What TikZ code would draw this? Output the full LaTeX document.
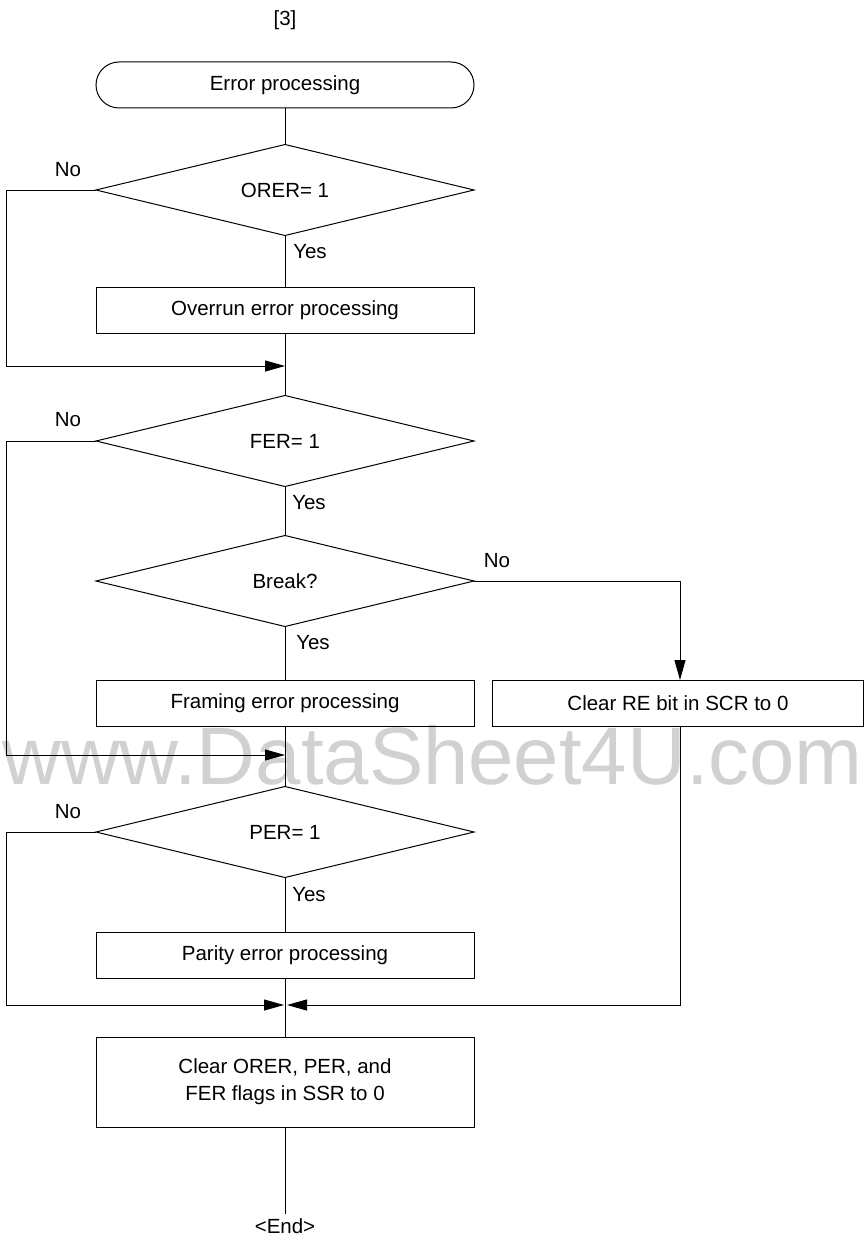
\documentclass[tikz,border=0pt]{standalone}
\usepackage{fontspec}
\setmainfont{Liberation Sans}
\usetikzlibrary{shapes.geometric,arrows.meta}
\begin{document}
\begin{tikzpicture}[x=1pt,y=-1pt,
  every node/.style={font=\fontsize{20.5}{27}\selectfont},
  line/.style={draw=black,line width=1pt},
  arr/.style={line,-{Triangle[length=20pt,width=11pt]}},
  procbox/.style={draw,line width=1pt,rectangle,minimum width=378pt,minimum height=46pt,inner sep=0pt,outer sep=0pt,align=center},
  termbox/.style={draw,line width=1pt,rectangle,rounded corners=23pt,minimum width=378pt,minimum height=46pt,inner sep=0pt,outer sep=0pt},
  decis/.style={draw,line width=1pt,diamond,aspect=4.15,minimum width=378pt,minimum height=91pt,inner sep=0pt,outer sep=0pt},
  lbl/.style={inner sep=0pt}]
\useasboundingbox (0,0) rectangle (865,1236);
% watermark
\node[anchor=base,text=black!18,inner sep=0pt,font=\fontsize{81.5}{90}\selectfont] (wm) at (432.5,784) {www.DataSheet4U.com};
% nodes
\node[lbl] (title) at (285,20) {[3]};
\node[termbox] (start) at (285,85) {Error processing};
\node[decis] (d1) at (285,190) {ORER= 1};
\node[procbox] (b1) at (285,310) {Overrun error processing};
\coordinate (m1) at (285,366);
\node[decis] (d2) at (285,441) {FER= 1};
\node[decis] (d3) at (285,581) {Break?};
\node[procbox] (b2) at (285,703) {Framing error processing};
\node[procbox,minimum width=371pt] (b3) at (678,703) {Clear RE bit in SCR to 0};
\coordinate (m2) at (285,755);
\node[decis] (d4) at (285,832) {PER= 1};
\node[procbox] (b4) at (285,955) {Parity error processing};
\coordinate (m3) at (285,1005);
\node[procbox,minimum height=90pt] (b5) at (285,1082) {Clear ORER, PER, and\\FER flags in SSR to 0};
\node[inner sep=4pt] (end) at (285,1226) {<End>};
% labels
\node[lbl] (no1) at (68,170) {No};
\node[lbl] (yes1) at (310,252) {Yes};
\node[lbl] (no2) at (68,420) {No};
\node[lbl] (yes2) at (309,503) {Yes};
\node[lbl] (no3) at (497,561) {No};
\node[lbl] (yes3) at (313,643) {Yes};
\node[lbl] (no4) at (68,812) {No};
\node[lbl] (yes4) at (309,895) {Yes};
% connectors
\draw[line] (start.south) -- (d1.north);
\draw[line] (d1.south) -- (b1.north);
\draw[line] (b1.south) -- (d2.north);
\draw[arr] (d1.west) -- ++(-90,0) |- (m1);
\draw[line] (d2.south) -- (d3.north);
\draw[line] (d3.south) -- (b2.north);
\draw[arr] (d3.east) -| ([xshift=2pt]b3.north);
\draw[line] (b2.south) -- (d4.north);
\draw[arr] (d2.west) -- ++(-90,0) |- (m2);
\draw[line] (d4.south) -- (b4.north);
\draw[line] (b4.south) -- (b5.north);
\draw[arr,shorten >=1pt] (d4.west) -- ++(-90,0) |- (m3);
\draw[arr,shorten >=2pt] ([xshift=2pt]b3.south) |- (m3);
\draw[line] (b5.south) -- (end.north);
\end{tikzpicture}
\end{document}
